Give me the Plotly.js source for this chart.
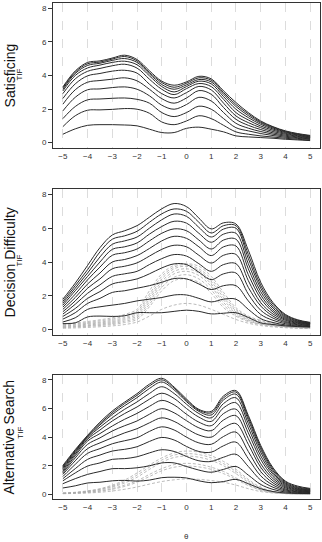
<!DOCTYPE html>
<html>
<head>
<meta charset="utf-8">
<script src="https://cdn.plot.ly/plotly-3.0.1.min.js"></script>
<style>html,body{margin:0;padding:0;background:#fff;}#chart{width:322px;height:542px;}</style>
</head>
<body>
<div id="chart"></div>
<script>
// theta grid shared by all panels
const theta = [-5,-4.5,-4,-3.5,-3,-2.5,-2,-1.5,-1,-0.5,0,0.5,1,1.5,2,2.5,3,3.5,4,4.5,5];
const xTicks = [-5,-4,-3,-2,-1,0,1,2,3,4,5];
const yTicks = [0,2,4,6,8];
const panelTitles = ["Satisficing","Decision Difficulty","Alternative Search"];
const subLabel = "TIF";
const xTitle = "θ";

// Satisficing TIF: one row per theta, values of the 11 cumulative curves (bottom -> top)
const satisficingByTheta = [
 [0.5,0.95,1.43,1.89,2.29,2.63,2.92,3.08,3.18,3.26,3.32],
 [0.82,1.6,2.15,2.7,3.15,3.5,3.8,4.0,4.12,4.2,4.27],
 [1.03,1.93,2.55,3.15,3.6,3.98,4.25,4.45,4.6,4.7,4.78],
 [1.07,1.95,2.6,3.2,3.7,4.12,4.42,4.62,4.73,4.8,4.87],
 [1.07,1.98,2.64,3.28,3.78,4.26,4.58,4.78,4.9,4.98,5.04],
 [1.05,2.03,2.66,3.32,3.86,4.31,4.67,4.85,5.01,5.13,5.21],
 [1.0,1.99,2.58,3.18,3.68,4.14,4.44,4.64,4.78,4.87,4.95],
 [0.8,1.75,2.35,2.79,3.18,3.48,3.78,3.98,4.1,4.18,4.28],
 [0.6,1.23,1.79,2.23,2.62,2.92,3.18,3.34,3.46,3.58,3.66],
 [0.6,1.07,1.55,1.99,2.35,2.66,2.86,3.02,3.18,3.3,3.42],
 [0.85,1.29,1.79,2.27,2.66,2.98,3.22,3.34,3.44,3.54,3.62],
 [0.92,1.6,2.17,2.7,3.1,3.35,3.52,3.66,3.76,3.86,3.95],
 [0.8,1.43,1.99,2.48,2.88,3.14,3.34,3.5,3.62,3.72,3.8],
 [0.64,1.03,1.43,1.79,2.09,2.35,2.58,2.74,2.88,2.98,3.08],
 [0.4,0.64,0.89,1.15,1.39,1.59,1.79,1.99,2.15,2.27,2.39],
 [0.34,0.5,0.7,0.86,1.03,1.19,1.35,1.49,1.61,1.71,1.79],
 [0.3,0.4,0.54,0.66,0.78,0.89,0.99,1.09,1.17,1.23,1.29],
 [0.26,0.33,0.42,0.5,0.58,0.66,0.74,0.81,0.87,0.92,0.95],
 [0.2,0.26,0.32,0.38,0.44,0.5,0.55,0.6,0.64,0.67,0.7],
 [0.16,0.2,0.25,0.29,0.33,0.37,0.41,0.45,0.48,0.51,0.54],
 [0.12,0.15,0.19,0.22,0.25,0.28,0.31,0.34,0.37,0.4,0.43]
];

// Decision Difficulty TIF: 12 curves per theta row
const decisionByTheta = [
 [0.35,0.45,0.62,0.78,0.92,1.06,1.2,1.33,1.45,1.57,1.68,1.8],
 [0.4,0.7,1.0,1.25,1.5,1.7,1.9,2.1,2.3,2.45,2.6,2.75],
 [0.75,1.2,1.55,1.85,2.15,2.45,2.7,2.95,3.15,3.35,3.55,3.8],
 [0.8,1.35,1.85,2.25,2.65,3.0,3.35,3.7,4.0,4.3,4.6,4.85],
 [0.78,1.45,2.2,2.7,3.15,3.6,4.0,4.4,4.75,5.05,5.35,5.6],
 [0.82,1.55,2.3,2.85,3.3,3.75,4.15,4.55,4.9,5.25,5.55,5.85],
 [1.0,1.7,2.45,3.0,3.45,3.95,4.38,4.77,5.13,5.48,5.82,6.15],
 [1.0,1.8,2.6,3.3,3.85,4.35,4.8,5.25,5.65,6.0,6.35,6.65],
 [1.0,1.9,2.8,3.65,4.2,4.75,5.25,5.7,6.1,6.5,6.85,7.15],
 [1.08,2.05,3.02,3.89,4.44,4.99,5.52,5.96,6.41,6.84,7.14,7.46],
 [1.15,2.05,3.0,3.85,4.35,4.9,5.4,5.85,6.3,6.7,7.0,7.28],
 [1.08,1.85,2.7,3.4,3.9,4.4,4.9,5.3,5.7,6.05,6.35,6.6],
 [0.93,1.64,2.37,2.96,3.45,3.94,4.38,4.77,5.17,5.48,5.72,5.96],
 [0.97,1.8,2.6,3.3,3.85,4.4,4.9,5.3,5.65,5.95,6.15,6.32],
 [1.0,1.8,2.6,3.35,3.9,4.45,4.95,5.35,5.7,6.0,6.15,6.25],
 [0.72,1.2,1.7,2.1,2.5,2.9,3.25,3.6,3.9,4.2,4.45,4.7],
 [0.4,0.65,0.9,1.15,1.4,1.6,1.85,2.05,2.25,2.45,2.62,2.8],
 [0.3,0.42,0.55,0.68,0.8,0.92,1.04,1.15,1.27,1.38,1.5,1.6],
 [0.22,0.28,0.35,0.42,0.48,0.55,0.61,0.67,0.73,0.79,0.85,0.9],
 [0.18,0.21,0.25,0.29,0.33,0.37,0.41,0.44,0.48,0.51,0.55,0.58],
 [0.15,0.18,0.2,0.23,0.26,0.29,0.31,0.34,0.36,0.38,0.4,0.43]
];

// Decision Difficulty dashed item curves (one array per curve, along theta)
const decisionItems = [
 [0.35,0.4,0.48,0.58,0.7,0.9,1.2,2.3,3.3,3.8,3.9,3.75,3.15,2.2,1.3,0.8,0.55,0.38,0.27,0.2,0.15],
 [0.3,0.35,0.42,0.52,0.62,0.82,1.1,2.1,3.15,3.7,3.85,3.6,3.0,2.05,1.2,0.75,0.5,0.35,0.25,0.18,0.14],
 [0.25,0.3,0.37,0.45,0.55,0.72,1.0,1.95,3.0,3.6,3.75,3.5,2.85,1.9,1.12,0.68,0.45,0.32,0.22,0.16,0.12],
 [0.22,0.26,0.32,0.4,0.48,0.65,0.9,1.8,2.85,3.45,3.6,3.35,2.7,1.75,1.05,0.62,0.4,0.28,0.2,0.15,0.11],
 [0.18,0.22,0.27,0.34,0.42,0.58,0.8,1.65,2.7,3.3,3.45,3.2,2.55,1.6,0.97,0.57,0.36,0.25,0.18,0.13,0.1],
 [0.15,0.18,0.23,0.29,0.36,0.5,0.7,1.5,2.5,3.1,3.25,3.0,2.35,1.45,0.88,0.52,0.33,0.23,0.16,0.12,0.09],
 [0.12,0.15,0.19,0.24,0.3,0.42,0.6,1.35,2.3,2.9,3.0,2.8,2.15,1.3,0.8,0.47,0.3,0.2,0.14,0.1,0.08],
 [0.08,0.1,0.13,0.17,0.22,0.3,0.45,0.8,1.2,1.45,1.55,1.45,1.2,0.9,0.6,0.38,0.24,0.16,0.11,0.08,0.06]
];

// Alternative Search TIF: 13 curves per theta row
const searchByTheta = [
 [0.45,0.75,0.95,1.1,1.25,1.4,1.5,1.6,1.7,1.8,1.88,1.95,2.02],
 [0.6,1.1,1.5,1.8,2.1,2.35,2.55,2.7,2.82,2.92,3.0,3.07,3.13],
 [0.8,1.4,1.98,2.45,2.87,3.2,3.5,3.73,3.86,3.96,4.03,4.08,4.13],
 [0.85,1.6,2.2,2.75,3.2,3.6,3.95,4.25,4.5,4.7,4.85,4.95,5.05],
 [0.95,1.8,2.45,3.03,3.54,3.96,4.43,4.78,5.13,5.36,5.59,5.71,5.83],
 [0.98,1.8,2.5,3.15,3.75,4.3,4.8,5.25,5.65,5.95,6.2,6.35,6.45],
 [0.93,1.86,2.63,3.33,3.96,4.59,5.13,5.66,6.11,6.46,6.76,6.92,7.04],
 [1.0,2.0,2.9,3.7,4.4,5.0,5.6,6.15,6.65,7.05,7.4,7.58,7.7],
 [1.17,2.2,3.12,3.98,4.72,5.35,5.99,6.57,7.07,7.52,7.85,8.0,8.11],
 [1.2,2.2,3.0,3.8,4.5,5.1,5.7,6.25,6.7,7.05,7.3,7.42,7.5],
 [1.15,1.95,2.65,3.35,4.0,4.6,5.15,5.6,6.0,6.3,6.48,6.58,6.66],
 [0.95,1.7,2.35,3.0,3.6,4.15,4.65,5.05,5.4,5.65,5.8,5.88,5.94],
 [0.82,1.55,2.3,2.95,3.5,4.0,4.45,4.8,5.1,5.35,5.55,5.7,5.8],
 [0.9,1.75,2.6,3.4,4.05,4.65,5.2,5.65,6.05,6.35,6.6,6.75,6.88],
 [1.05,1.95,2.8,3.65,4.35,4.95,5.5,5.95,6.4,6.75,7.0,7.15,7.25],
 [0.75,1.35,1.95,2.5,3.0,3.5,3.9,4.3,4.65,4.95,5.2,5.38,5.52],
 [0.4,0.7,1.0,1.3,1.6,1.9,2.15,2.45,2.7,2.95,3.15,3.3,3.43],
 [0.2,0.35,0.5,0.65,0.8,0.95,1.1,1.25,1.4,1.52,1.65,1.76,1.86],
 [0.1,0.17,0.24,0.31,0.38,0.46,0.53,0.6,0.67,0.74,0.8,0.87,0.93],
 [0.07,0.1,0.14,0.18,0.22,0.26,0.3,0.34,0.38,0.42,0.47,0.52,0.58],
 [0.06,0.08,0.1,0.13,0.16,0.19,0.22,0.25,0.28,0.31,0.34,0.38,0.42]
];

// Alternative Search dashed item curves
const searchItems = [
 [0.1,0.15,0.25,0.4,0.65,1.0,1.5,2.05,2.55,2.9,3.03,2.95,2.7,2.3,1.75,1.05,0.5,0.22,0.1,0.06,0.04],
 [0.09,0.13,0.22,0.36,0.58,0.9,1.35,1.9,2.4,2.75,2.85,2.78,2.55,2.15,1.6,0.95,0.45,0.2,0.09,0.05,0.04],
 [0.08,0.12,0.2,0.32,0.52,0.8,1.2,1.75,2.25,2.58,2.68,2.6,2.38,2.0,1.45,0.85,0.4,0.18,0.08,0.05,0.03],
 [0.07,0.1,0.16,0.26,0.42,0.65,0.95,1.4,1.8,2.08,2.17,2.1,1.9,1.6,1.15,0.68,0.32,0.14,0.07,0.04,0.03],
 [0.06,0.09,0.14,0.22,0.36,0.56,0.85,1.25,1.65,1.9,1.98,1.92,1.75,1.45,1.05,0.62,0.3,0.13,0.06,0.04,0.03],
 [0.05,0.07,0.1,0.15,0.24,0.36,0.52,0.72,0.9,1.02,1.08,1.05,0.97,0.85,0.65,0.4,0.2,0.1,0.05,0.03,0.02]
];

function columnsToCurves(rows){
  const n = rows[0].length;
  const out = [];
  for(let k=0;k<n;k++){ out.push(rows.map(r=>r[k])); }
  return out;
}

const traces = [];
function addDashed(curves, axisIdx){
  const sfx = axisIdx===1 ? '' : String(axisIdx);
  curves.forEach(c=>traces.push({x:theta,y:c,type:'scatter',mode:'lines',xaxis:'x'+sfx,yaxis:'y'+sfx,
    line:{color:'#aaaaaa',width:0.8,dash:'3px,2px',shape:'spline',smoothing:1},hoverinfo:'skip',showlegend:false}));
}
function addSolid(curves, axisIdx){
  const sfx = axisIdx===1 ? '' : String(axisIdx);
  curves.forEach(c=>traces.push({x:theta,y:c,type:'scatter',mode:'lines',xaxis:'x'+sfx,yaxis:'y'+sfx,
    line:{color:'#2a2a2a',width:1,shape:'spline',smoothing:1},hoverinfo:'skip',showlegend:false}));
}
addSolid(columnsToCurves(satisficingByTheta),1);
addDashed(decisionItems,2);
addSolid(columnsToCurves(decisionByTheta),2);
addDashed(searchItems,3);
addSolid(columnsToCurves(searchByTheta),3);

const fontFam = 'Liberation Sans, Arial, sans-serif';
function xax(anchor){
  return {anchor:anchor,domain:[0,1],range:[-5.4,5.4],tickmode:'array',tickvals:xTicks,
    showgrid:true,gridcolor:'#dcdcdc',griddash:'dash',gridwidth:1,zeroline:false,
    showline:true,mirror:true,linecolor:'#333',linewidth:1,ticks:'',
    tickfont:{family:fontFam,size:8,color:'#333'}};
}
function yax(anchor,dom){
  return {anchor:anchor,domain:dom,range:[-0.32,8.32],tickmode:'array',tickvals:yTicks,
    showgrid:false,zeroline:false,showline:true,mirror:true,linecolor:'#333',linewidth:1,
    ticks:'outside',ticklen:4,tickcolor:'#333',tickwidth:1,
    tickfont:{family:fontFam,size:8,color:'#333'}};
}
const titleY = [0.855,0.478,0.125];
const tifY = [0.855,0.48,0.133];
const annotations = [];
panelTitles.forEach((t,i)=>{
  annotations.push({text:t,xref:'paper',yref:'paper',x:-0.163,y:titleY[i],textangle:-90,showarrow:false,
    xanchor:'center',yanchor:'middle',font:{family:fontFam,size:14,color:'#111'}});
  annotations.push({text:subLabel,xref:'paper',yref:'paper',x:-0.125,y:tifY[i],textangle:-90,showarrow:false,
    xanchor:'center',yanchor:'middle',font:{family:fontFam,size:8,color:'#111'}});
});
annotations.push({text:xTitle,xref:'paper',yref:'paper',x:0.5,y:-0.0766,showarrow:false,
  xanchor:'center',yanchor:'middle',font:{family:fontFam,size:8,color:'#333'}});

const layout = {
  width:322,height:542,margin:{l:53,r:2,t:3,b:43},
  paper_bgcolor:'#fff',plot_bgcolor:'#fff',showlegend:false,
  xaxis:xax('y'),yaxis:yax('x',[0.7077,1]),
  xaxis2:xax('y2'),yaxis2:yax('x2',[0.3306,0.625]),
  xaxis3:xax('y3'),yaxis3:yax('x3',[0,0.2494]),
  annotations:annotations
};
Plotly.newPlot('chart',traces,layout,{staticPlot:true,displayModeBar:false});
</script>
</body>
</html>
